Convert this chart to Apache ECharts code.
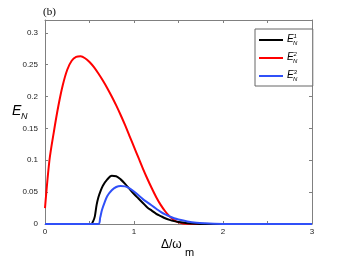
<!DOCTYPE html>
<html><head><meta charset="utf-8">
<script src="https://cdn.jsdelivr.net/npm/echarts@6/dist/echarts.min.js"></script>
<style>html,body{margin:0;padding:0;background:#fff}#c{width:346px;height:260px}</style>
</head><body><div id="c"></div>
<script>
const seriesNames = ['E1', 'E2', 'E3'];
const xTicks = [0, 1, 2, 3];
const yTicks = [0, 0.05, 0.1, 0.15, 0.2, 0.25, 0.3];
// E_N^1 (black)
const e1X = [0, 0.5, 0.52, 0.54, 0.56, 0.58, 0.6, 0.625, 0.65, 0.7, 0.75, 0.8, 0.85, 0.9, 0.95, 1.0, 1.05, 1.1, 1.15, 1.2, 1.25, 1.3, 1.35, 1.4, 1.45, 1.5, 1.6, 1.7, 1.8, 1.9, 3];
const e1Y = [0, 0, 0, 0.004, 0.012, 0.03, 0.042, 0.052, 0.06, 0.07, 0.0755, 0.075, 0.07, 0.063, 0.055, 0.047, 0.04, 0.033, 0.026, 0.021, 0.016, 0.0125, 0.009, 0.0065, 0.0045, 0.003, 0.0013, 0.0005, 0.0001, 0, 0];
// E_N^2 (red)
const e2X = [0, 0.05, 0.1, 0.15, 0.2, 0.25, 0.3, 0.35, 0.4, 0.45, 0.5, 0.55, 0.6, 0.65, 0.7, 0.75, 0.8, 0.85, 0.9, 0.95, 1.0, 1.05, 1.1, 1.15, 1.2, 1.25, 1.3, 1.35, 1.4, 1.45, 1.5, 1.55, 1.6, 1.7, 3];
const e2Y = [0.025, 0.1, 0.145, 0.185, 0.218, 0.242, 0.256, 0.262, 0.263, 0.26, 0.254, 0.246, 0.236, 0.225, 0.213, 0.2, 0.186, 0.171, 0.155, 0.138, 0.121, 0.104, 0.087, 0.071, 0.056, 0.042, 0.03, 0.02, 0.012, 0.006, 0.0025, 0.0008, 0.0002, 0, 0];
// E_N^3 (blue)
const e3X = [0, 0.6, 0.62, 0.64, 0.67, 0.7, 0.75, 0.8, 0.85, 0.9, 0.95, 1.0, 1.05, 1.1, 1.15, 1.2, 1.25, 1.3, 1.35, 1.4, 1.45, 1.5, 1.6, 1.7, 1.8, 1.9, 2.0, 2.1, 3];
const e3Y = [0, 0, 0.01, 0.022, 0.034, 0.044, 0.053, 0.058, 0.0595, 0.059, 0.056, 0.051, 0.045, 0.039, 0.034, 0.029, 0.024, 0.019, 0.015, 0.012, 0.009, 0.007, 0.004, 0.002, 0.001, 0.0004, 0.0001, 0, 0];

const pair = (xs, ys) => xs.map((x, i) => [x, ys[i]]);
const chart = echarts.init(document.getElementById('c'), null, {renderer: 'canvas'});
const axisColor = '#808080';
const labelStyle = {color: '#222', fontSize: 8, fontFamily: 'Liberation Sans, Arial, sans-serif'};
const G = {left: 45, right: 34, top: 20, bottom: 36};
const legendY = [40, 58, 76];
const supLabels = ['1', '2', '3'];
const graphics = [
  {type: 'text', z: 200, left: 43, top: 7, style: {text: '(b)', font: '11px "Liberation Serif", "Times New Roman", serif', fill: '#000'}},
  {type: 'text', z: 200, left: 12, top: 104, style: {text: 'E', font: 'italic 14px "Liberation Sans", Arial, sans-serif', fill: '#000'}},
  {type: 'text', z: 200, left: 21, top: 112, style: {text: 'N', font: 'italic 9px "Liberation Sans", Arial, sans-serif', fill: '#000'}},
  {type: 'text', z: 200, left: 161, top: 239, style: {text: 'Δ/ω', font: '12px "Liberation Sans", Arial, sans-serif', fill: '#000'}},
  {type: 'text', z: 200, left: 185, top: 247, style: {text: 'm', font: '11px "Liberation Sans", Arial, sans-serif', fill: '#000'}}
];
legendY.forEach((y, i) => {
  graphics.push({type: 'text', z: 200, left: 287, top: y - 6, style: {text: 'E', font: 'italic 10px "Liberation Sans", Arial, sans-serif', fill: '#000'}});
  graphics.push({type: 'text', z: 200, left: 293.5, top: y - 7, style: {text: supLabels[i], font: 'italic 6px "Liberation Sans", Arial, sans-serif', fill: '#000'}});
  graphics.push({type: 'text', z: 200, left: 293, top: y + 0.5, style: {text: 'N', font: 'italic 6px "Liberation Sans", Arial, sans-serif', fill: '#000'}});
});

const mkSeries = (name, data, color) => ({
  name, type: 'line', data, showSymbol: false, symbol: 'none',
  smooth: 0.3, sampling: null,
  lineStyle: {color, width: 2}, itemStyle: {color}, animation: false
});

chart.setOption({
  animation: false,
  grid: G,
  graphic: {elements: graphics},
  legend: {
    orient: 'vertical', left: 255, top: 29, z: 10,
    padding: [3, 22, 2, 4], itemGap: 2,
    itemWidth: 24, itemHeight: 2, icon: 'rect',
    borderColor: '#666', borderWidth: 1, backgroundColor: '#fff',
    formatter: () => ' ',
    textStyle: {fontSize: 10, lineHeight: 16},
    data: seriesNames
  },
  xAxis: [
    {type: 'value', min: 0, max: 3, interval: 0.5,
     axisLine: {onZero: false, lineStyle: {color: axisColor, width: 1}},
     axisTick: {inside: true, length: 3, lineStyle: {color: axisColor}},
     axisLabel: Object.assign({margin: 4, formatter: v => (xTicks.includes(v) ? String(v) : '')}, labelStyle),
     splitLine: {show: false}},
    {type: 'value', position: 'top', min: 0, max: 3, interval: 0.5,
     axisLine: {onZero: false, lineStyle: {color: axisColor, width: 1}},
     axisTick: {inside: true, length: 3, lineStyle: {color: axisColor}},
     axisLabel: {show: false}, splitLine: {show: false}}
  ],
  yAxis: [
    {type: 'value', min: 0, max: 0.32, interval: 0.05,
     axisLine: {show: true, onZero: false, lineStyle: {color: axisColor, width: 1}},
     axisTick: {show: true, inside: true, length: 3, lineStyle: {color: axisColor}},
     axisLabel: Object.assign({margin: 7, showMaxLabel: false, formatter: v => (yTicks.some(t => Math.abs(t - v) < 1e-9) ? String(+v.toFixed(2)) : '')}, labelStyle),
     splitLine: {show: false}},
    {type: 'value', position: 'right', min: 0, max: 0.32, interval: 0.05,
     axisLine: {show: true, onZero: false, lineStyle: {color: axisColor, width: 1}},
     axisTick: {show: true, inside: true, length: 3, lineStyle: {color: axisColor}},
     axisLabel: {show: false}, splitLine: {show: false}}
  ],
  series: [
    mkSeries(seriesNames[1], pair(e2X, e2Y), '#ff0000'),
    mkSeries(seriesNames[0], pair(e1X, e1Y), '#000000'),
    mkSeries(seriesNames[2], pair(e3X, e3Y), '#3050f8')
  ]
});
</script></body></html>
